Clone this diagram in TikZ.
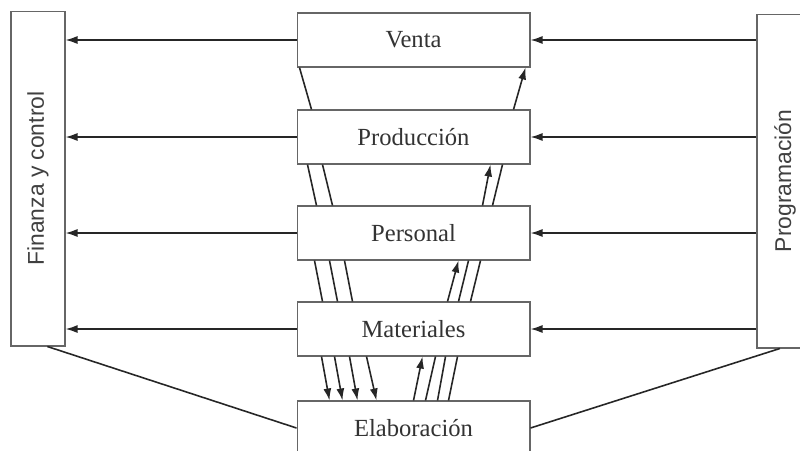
\documentclass[tikz,border=0pt]{standalone}
\usepackage{fontspec}
\setmainfont{Liberation Serif}
\newfontfamily\ladofont{Liberation Sans}
\usetikzlibrary{calc,arrows.meta}

\tikzset{
  depto/.style={draw=black!60, line width=0.6pt, inner sep=0pt,
    minimum width=4.66cm, minimum height=1.08cm,
    font=\fontsize{14}{16}\selectfont, text=black!80},
  lado/.style={draw=black!60, line width=0.6pt, inner sep=0pt,
    font=\ladofont\fontsize{13}{15}\selectfont, text=black!75},
  flujo/.style={draw=black!85, line width=0.9pt, -{Latex[length=2.4mm,width=1.6mm]}},
  enlace/.style={draw=black!85, line width=0.9pt},
}

\begin{document}
\begin{tikzpicture}[x=0.02cm, y=-0.02cm]
    \clip (0,0) rectangle (800,450);
    \fill[white] (0,0) rectangle (800,450);

    \node[lado, minimum width=1.08cm, minimum height=6.7cm]  (fin)  at (38,178.5) {\rotatebox{90}{Finanza y control}};
    \node[lado, minimum width=1.12cm, minimum height=6.68cm] (prog) at (785,181)  {\rotatebox{90}{Programación}};

    \node[depto] (venta) at (413.5,40)  {Venta};
    \node[depto] (prod)  at (413.5,137) {Producción};
    \node[depto] (pers)  at (413.5,233) {Personal};
    \node[depto] (mat)   at (413.5,329) {Materiales};
    \node[depto] (elab)  at (413.5,428) {Elaboración};

    % hacia finanza y control
    \draw[flujo] (venta.west) -- (venta.west -| fin.east);
    \draw[flujo] (prod.west)  -- (prod.west -| fin.east);
    \draw[flujo] (pers.west)  -- (pers.west -| fin.east);
    \draw[flujo] (mat.west)   -- (mat.west -| fin.east);

    % desde programacion
    \draw[flujo] (venta.east -| prog.west) -- (venta.east);
    \draw[flujo] (prod.east -| prog.west)  -- (prod.east);
    \draw[flujo] (pers.east -| prog.west)  -- (pers.east);
    \draw[flujo] (mat.east -| prog.west)   -- (mat.east);

    \draw[enlace] ($(fin.south west)!0.67!(fin.south east)$)  -- (elab.west);
    \draw[enlace] ($(prog.south west)!0.41!(prog.south east)$) -- (elab.east);

    % bajada, lado izquierdo
    \draw[enlace] ($(venta.south west)+(3,0)$)  -- ($(prod.north west)+(15,0)$);

    \draw[enlace] ($(prod.south west)+(11,0)$)  -- ($(pers.north west)+(20,0)$);
    \draw[enlace] ($(prod.south west)+(26,0)$)  -- ($(pers.north west)+(36,0)$);

    \draw[enlace] ($(pers.south west)+(18,0)$)  -- ($(mat.north west)+(26,0)$);
    \draw[enlace] ($(pers.south west)+(33,0)$)  -- ($(mat.north west)+(41,0)$);
    \draw[enlace] ($(pers.south west)+(48,0)$)  -- ($(mat.north west)+(56,0)$);

    \draw[flujo]  ($(mat.south west)+(25,0)$)   -- ($(elab.north west)+(33,0)$);
    \draw[flujo]  ($(mat.south west)+(38,0)$)   -- ($(elab.north west)+(46,0)$);
    \draw[flujo]  ($(mat.south west)+(53,0)$)   -- ($(elab.north west)+(61,0)$);
    \draw[flujo]  ($(mat.south west)+(70,0)$)   -- ($(elab.north west)+(80,0)$);

    % subida, lado derecho
    \draw[flujo]  ($(prod.north east)+(-17,0)$)  -- ($(venta.south east)+(-5,0)$);

    \draw[flujo]  ($(pers.north east)+(-48,0)$)  -- ($(prod.south east)+(-40,0)$);
    \draw[enlace] ($(pers.north east)+(-38,0)$)  -- ($(prod.south east)+(-28,0)$);

    \draw[flujo]  ($(mat.north east)+(-83,0)$)   -- ($(pers.south east)+(-72,0)$);
    \draw[enlace] ($(mat.north east)+(-72,0)$)   -- ($(pers.south east)+(-62,0)$);
    \draw[enlace] ($(mat.north east)+(-60,0)$)   -- ($(pers.south east)+(-50,0)$);

    \draw[flujo]  ($(elab.north east)+(-117,0)$) -- ($(mat.south east)+(-108,0)$);
    \draw[enlace] ($(elab.north east)+(-105,0)$) -- ($(mat.south east)+(-95,0)$);
    \draw[enlace] ($(elab.north east)+(-93,0)$)  -- ($(mat.south east)+(-85,0)$);
    \draw[enlace] ($(elab.north east)+(-82,0)$)  -- ($(mat.south east)+(-73,0)$);
\end{tikzpicture}
\end{document}
